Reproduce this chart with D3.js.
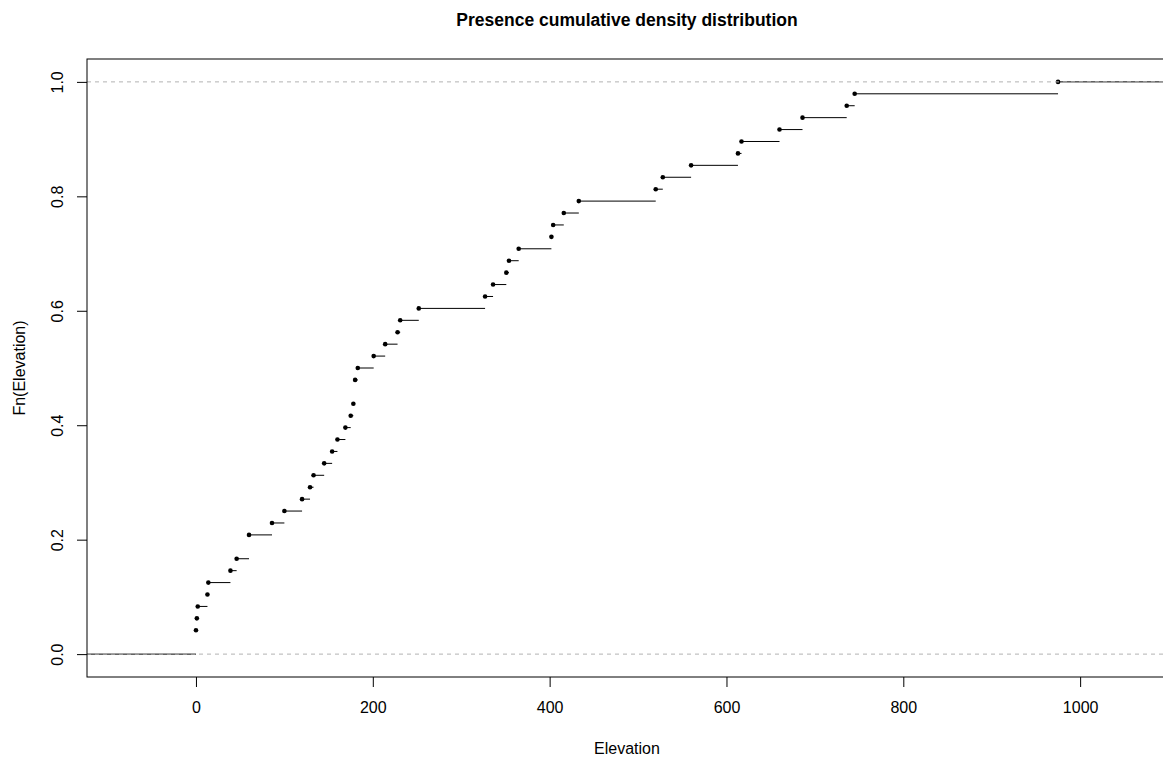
<!DOCTYPE html>
<html>
<head>
<meta charset="utf-8">
<script src="https://cdn.jsdelivr.net/npm/d3@7"></script>
<style>
  body { margin: 0; background: #fff; }
  svg { display: block; font-family: "Liberation Sans", Arial, sans-serif; }
</style>
</head>
<body>
<div class="chart"></div>
<script>
// elevations (48 presences)
const elevation = [0, 0, 1, 2, 13, 14, 39, 46, 60, 60, 86, 100, 120, 129, 133, 145,
    154, 160, 169, 175, 178, 180, 180, 183, 201, 214, 228, 231, 252, 327, 336, 351,
    354, 365, 402, 404, 416, 433, 520, 528, 560, 613, 617, 660, 686, 736, 745, 975];
const xTicks = [0, 200, 400, 600, 800, 1000];
const yTicks = [0, 0.2, 0.4, 0.6, 0.8, 1.0];
const refLines = [0, 1];

const W = 1163, H = 762;
const box = {left: 87, right: 1167, top: 59, bottom: 677};

const svg = d3.select(".chart").append("svg")
    .attr("width", W)
    .attr("height", H);

// R-style limits for plot.ecdf
const knots = Array.from(new Set(elevation)).sort((a, b) => a - b);
const rx = d3.extent(knots);
const dr = Math.max(0.08 * (rx[1] - rx[0]), d3.median(d3.pairs(knots), p => p[1] - p[0]));
const xlim = [rx[0] - dr, rx[1] + dr];
const pad = 0.04 * (xlim[1] - xlim[0]);

const x = d3.scaleLinear()
    .domain([xlim[0] - pad, xlim[1] + pad])
    .range([box.left, box.right]);
const y = d3.scaleLinear()
    .domain([-0.04, 1.04])
    .range([box.bottom, box.top]);

const n = elevation.length;
const Fn = v => elevation.filter(e => e <= v).length / n;

svg.append("defs").append("clipPath").attr("id", "clip")
    .append("rect")
    .attr("x", box.left).attr("y", box.top)
    .attr("width", box.right - box.left).attr("height", box.bottom - box.top);

const plot = svg.append("g").attr("clip-path", "url(#clip)");

// horizontal steps
const ti = [x.domain()[0], ...knots, x.domain()[1]];
const steps = d3.pairs(ti).map((p, i) => ({x0: p[0], x1: p[1], y: i === 0 ? 0 : Fn(p[0])}));
plot.selectAll(".step")
    .data(steps)
    .enter()
    .append("line")
    .attr("class", "step")
    .attr("x1", d => x(d.x0))
    .attr("x2", d => x(d.x1))
    .attr("y1", d => y(d.y))
    .attr("y2", d => y(d.y))
    .attr("stroke", "#000")
    .attr("stroke-width", 1);

// points at the jumps
plot.selectAll(".pt")
    .data(knots)
    .enter()
    .append("circle")
    .attr("class", "pt")
    .attr("cx", d => x(d))
    .attr("cy", d => y(Fn(d)))
    .attr("r", 2.3)
    .attr("fill", "#000");

// dashed reference lines at 0 and 1 (drawn on top, like abline)
plot.selectAll(".ref")
    .data(refLines)
    .enter()
    .append("line")
    .attr("class", "ref")
    .attr("x1", box.left)
    .attr("x2", box.right)
    .attr("y1", d => y(d))
    .attr("y2", d => y(d))
    .attr("stroke", "#b3b3b3")
    .attr("stroke-width", 1)
    .attr("stroke-dasharray", "4,4");

// axes
const xAxis = svg.append("g")
    .attr("transform", "translate(0," + box.bottom + ")")
    .call(d3.axisBottom(x).tickValues(xTicks).tickSize(10).tickSizeOuter(0).tickPadding(15).tickFormat(d3.format("d")));
xAxis.select(".domain").remove();
xAxis.selectAll("text").attr("font-size", 16).attr("fill", "#000").attr("font-family", null);

const yAxis = svg.append("g")
    .attr("transform", "translate(" + box.left + ",0)")
    .call(d3.axisLeft(y).tickValues(yTicks).tickSize(10).tickSizeOuter(0).tickFormat(d3.format(".1f")));
yAxis.select(".domain").remove();
yAxis.selectAll("text")
    .attr("font-size", 16)
    .attr("fill", "#000")
    .attr("font-family", null)
    .attr("text-anchor", "middle")
    .attr("x", null).attr("dy", null)
    .attr("transform", "translate(-24,0) rotate(-90)");

// box
svg.append("rect")
    .attr("x", box.left).attr("y", box.top)
    .attr("width", box.right - box.left).attr("height", box.bottom - box.top)
    .attr("fill", "none")
    .attr("stroke", "#000");

// titles
svg.append("text")
    .attr("x", (box.left + box.right) / 2)
    .attr("y", 26)
    .attr("text-anchor", "middle")
    .attr("font-weight", "bold")
    .attr("font-size", 17.5)
    .text("Presence cumulative density distribution");

svg.append("text")
    .attr("x", (box.left + box.right) / 2)
    .attr("y", 754)
    .attr("text-anchor", "middle")
    .attr("font-size", 16)
    .text("Elevation");

svg.append("text")
    .attr("transform", "translate(25," + (box.top + box.bottom) / 2 + ") rotate(-90)")
    .attr("text-anchor", "middle")
    .attr("font-size", 16)
    .text("Fn(Elevation)");
</script>
</body>
</html>
